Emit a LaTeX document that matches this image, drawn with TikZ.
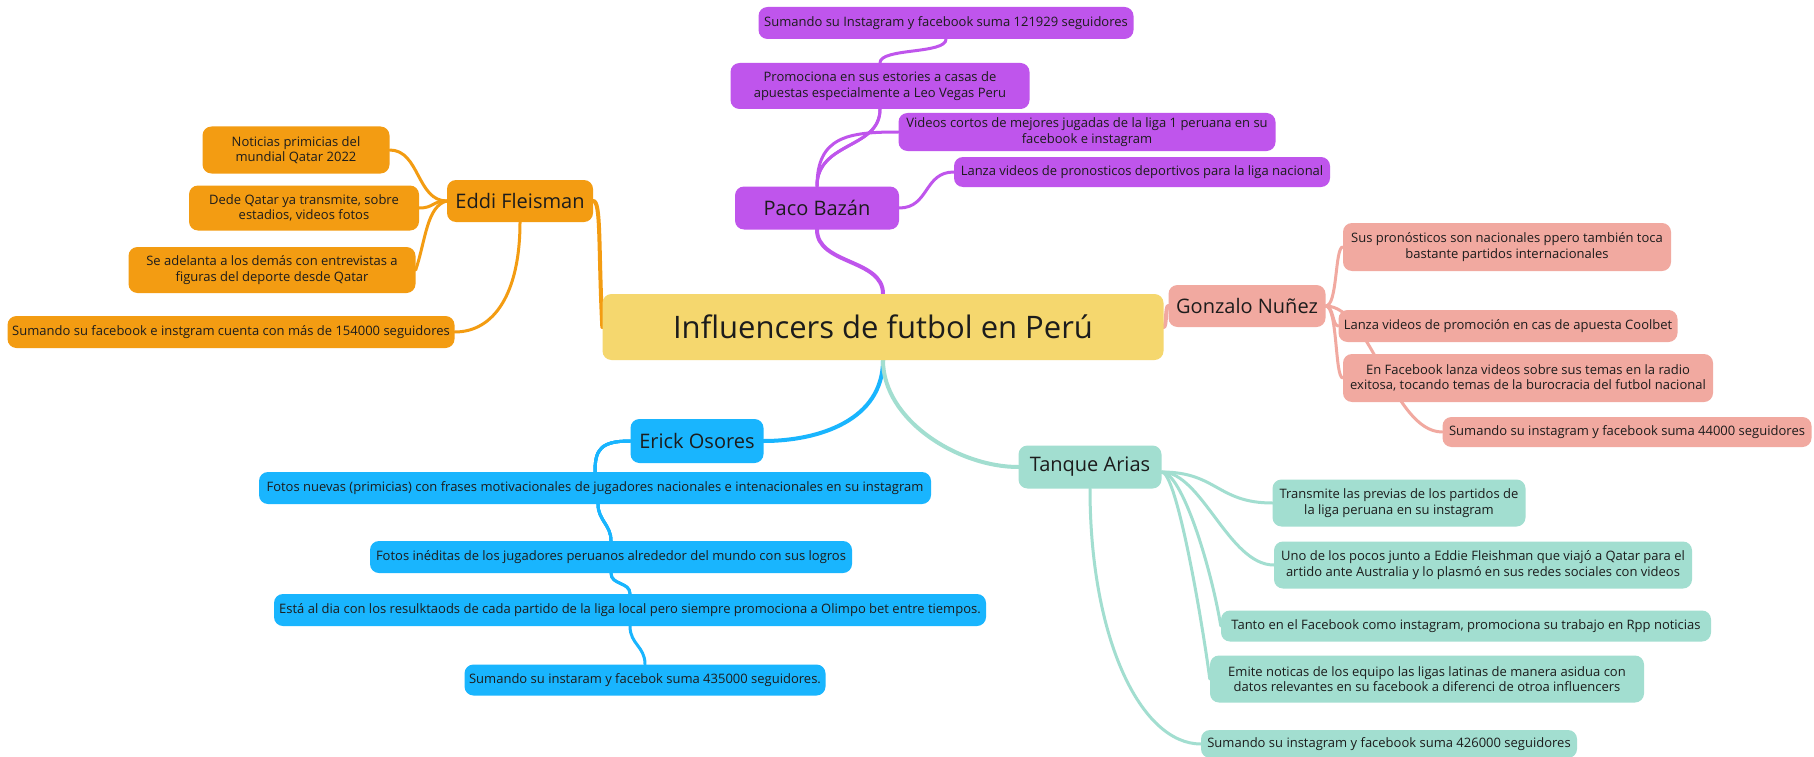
\documentclass[tikz,border=0pt]{standalone}
\usepackage{fontspec}
\setmainfont{Open Sans}
\usetikzlibrary{calc}
\definecolor{cyel}{HTML}{F5D76E}
\definecolor{cpur}{HTML}{BF55EC}
\definecolor{cora}{HTML}{F39C12}
\definecolor{csal}{HTML}{F1A9A0}
\definecolor{cblu}{HTML}{19B5FE}
\definecolor{ctea}{HTML}{A2DED0}
\definecolor{ctxt}{HTML}{1C1C1C}
\pgfdeclarelayer{paper}
\pgfdeclarelayer{bg}
\pgfsetlayers{paper,bg,main}
\begin{document}
\begin{tikzpicture}[x=1pt,y=-1pt,
  box/.style={rounded corners=9pt, inner sep=0pt, align=center, text=ctxt},
  leaf/.style={box, font=\fontsize{13}{15.5}\selectfont},
  lvlone/.style={box, font=\fontsize{20}{24}\selectfont},
  rootbox/.style={box, font=\fontsize{31}{36}\selectfont},
  sz/.style 2 args={minimum width=#1pt, minimum height=#2pt},
  mainlink/.style={line width=4pt, line cap=round},
  sublink/.style={line width=3pt, line cap=round}]
\begin{pgfonlayer}{paper}
\fill[white] (0,0) rectangle (1814,757);
\end{pgfonlayer}
\useasboundingbox (0,0) rectangle (1814,757);

% root
\node[rootbox, fill=cyel, sz={561}{66}] (c) at (883,327) {Influencers de futbol en Perú};

% purple
\node[lvlone, fill=cpur, sz={164}{43}] (paco) at (817,208) {Paco Bazán};
\node[leaf, fill=cpur, sz={375}{32}] (p1) at (946,23) {Sumando su Instagram y facebook suma 121929 seguidores};
\node[leaf, fill=cpur, sz={299}{46}] (p2) at (880,86) {Promociona en sus estories a casas de\\apuestas especialmente a Leo Vegas Peru};
\node[leaf, fill=cpur, sz={377}{38}] (p3) at (1087,132) {Videos cortos de mejores jugadas de la liga 1 peruana en su\\facebook e instagram};
\node[leaf, fill=cpur, sz={376}{30}] (p4) at (1142,172) {Lanza videos de pronosticos deportivos para la liga nacional};

% orange
\node[lvlone, fill=cora, sz={146}{42}] (eddi) at (520,201) {Eddi Fleisman};
\node[leaf, fill=cora, sz={187}{47}] (o1) at (296,150) {Noticias primicias del\\mundial Qatar 2022};
\node[leaf, fill=cora, sz={230}{45}] (o2) at (304,208) {Dede Qatar ya transmite, sobre\\estadios, videos fotos};
\node[leaf, fill=cora, sz={287}{46}] (o3) at (272,270) {Se adelanta a los demás con entrevistas a\\figuras del deporte desde Qatar};
\node[leaf, fill=cora, sz={447}{32}] (o4) at (231,332) {Sumando su facebook e instgram cuenta con más de 154000 seguidores};

% salmon
\node[lvlone, fill=csal, sz={157}{42}] (gon) at (1247,306) {Gonzalo Nuñez};
\node[leaf, fill=csal, sz={328}{48}] (s1) at (1507,247) {Sus pronósticos son nacionales ppero también toca\\bastante partidos internacionales};
\node[leaf, fill=csal, sz={339}{32}] (s2) at (1508,326) {Lanza videos de promoción en cas de apuesta Coolbet};
\node[leaf, fill=csal, sz={370}{48}] (s3) at (1528,378) {En Facebook lanza videos sobre sus temas en la radio\\exitosa, tocando temas de la burocracia del futbol nacional};
\node[leaf, fill=csal, sz={369}{30}] (s4) at (1627,432) {Sumando su instagram y facebook suma 44000 seguidores};

% blue
\node[lvlone, fill=cblu, sz={133}{44}] (eri) at (697,441) {Erick Osores};
\node[leaf, fill=cblu, sz={672}{32}] (b1) at (595,488) {Fotos nuevas (primicias) con frases motivacionales de jugadores nacionales e intenacionales en su instagram};
\node[leaf, fill=cblu, sz={482}{32}] (b2) at (611,557) {Fotos inéditas de los jugadores peruanos alrededor del mundo con sus logros};
\node[leaf, fill=cblu, sz={712}{32}] (b3) at (630,610) {Está al dia con los resulktaods de cada partido de la liga local pero siempre promociona a Olimpo bet entre tiempos.};
\node[leaf, fill=cblu, sz={361}{31}] (b4) at (645,680) {Sumando su instaram y facebok suma 435000 seguidores.};

% teal
\node[lvlone, fill=ctea, sz={143}{43}] (tan) at (1090,467) {Tanque Arias};
\node[leaf, fill=ctea, sz={253}{47}] (t1) at (1399,503) {Transmite las previas de los partidos de\\la liga peruana en su instagram};
\node[leaf, fill=ctea, sz={418}{47}] (t2) at (1483,565) {Uno de los pocos junto a Eddie Fleishman que viajó a Qatar para el\\artido ante Australia y lo plasmó en sus redes sociales con videos};
\node[leaf, fill=ctea, sz={490}{31}] (t3) at (1466,626) {Tanto en el Facebook como instagram, promociona su trabajo en Rpp noticias};
\node[leaf, fill=ctea, sz={434}{47}] (t4) at (1427,679) {Emite noticas de los equipo las ligas latinas de manera asidua con\\datos relevantes en su facebook a diferenci de otroa influencers};
\node[leaf, fill=ctea, sz={376}{28}] (t5) at (1389,744) {Sumando su instagram y facebook suma 426000 seguidores};

\begin{pgfonlayer}{bg}
% purple links
\draw[cpur, mainlink] (c.north) .. controls +(0,-35) and +(0,35) .. (paco.south);
\draw[cpur, sublink] (paco.north) .. controls +(0,-45) and +(0,40) .. (p2.south);
\draw[cpur, sublink] (paco.north) .. controls +(0,-45) and +(0,40) .. (p2.south) -- (p2.north) .. controls +(0,-15) and +(0,15) .. (p1.south);
\draw[cpur, sublink] (paco.north) .. controls +(0,-50) and +(-50,0) .. (p3.west);
\draw[cpur, sublink] (paco.east) .. controls +(30,0) and +(-30,0) .. (p4.west);
% orange links
\draw[cora, mainlink] (eddi.east) .. controls +(8,0) and +(-4,-80) .. (c.west);
\draw[cora, sublink] (eddi.west) .. controls +(-30,0) and +(30,0) .. (o1.east);
\draw[cora, sublink] (eddi.west) .. controls +(-15,0) and +(15,0) .. (o2.east);
\draw[cora, sublink] (eddi.west) .. controls +(-20,5) and +(10,-30) .. (o3.east);
\draw[cora, sublink] (eddi.south) .. controls +(0,70) and +(40,0) .. (o4.east);
% salmon links
\draw[csal, mainlink] (c.east) .. controls +(3,0) and +(-3,0) .. (gon.west);
\draw[csal, sublink] (gon.east) .. controls +(12,0) and +(-8,0) .. (s1.west);
\draw[csal, sublink] (gon.east) .. controls +(8,0) and +(-6,0) .. (s2.west);
\draw[csal, sublink] (gon.east) .. controls +(12,0) and +(-8,0) .. (s3.west);
\draw[csal, sublink] (gon.east) .. controls +(45,0) and +(-50,0) .. (s4.west);
% blue links
\draw[cblu, mainlink] (c.south) .. controls +(0,60) and +(55,0) .. (eri.east);
\draw[cblu, sublink] (eri.west) .. controls +(-30,0) and +(0,-22) .. (b1.north);
\draw[cblu, sublink] (eri.west) .. controls +(-30,0) and +(0,-22) .. (b1.north) -- ([xshift=3pt]b1.south) .. controls +(0,16) and +(0,-16) .. (b2.north);
\draw[cblu, sublink] (eri.west) .. controls +(-30,0) and +(0,-22) .. (b1.north) -- ([xshift=3pt]b1.south) .. controls +(0,16) and +(0,-16) .. (b2.north) -- (b2.south) .. controls +(0,12) and +(0,-12) .. (b3.north);
\draw[cblu, sublink] (eri.west) .. controls +(-30,0) and +(0,-22) .. (b1.north) -- ([xshift=3pt]b1.south) .. controls +(0,16) and +(0,-16) .. (b2.north) -- (b2.south) .. controls +(0,12) and +(0,-12) .. (b3.north) -- (b3.south) .. controls +(0,18) and +(0,-18) .. (b4.north);
% teal links
\draw[ctea, mainlink] (c.south) .. controls +(0,60) and +(-60,0) .. (tan.west);
\draw[ctea, sublink] ([yshift=-5pt]tan.east) .. controls +(55,0) and +(-55,0) .. (t1.west);
\draw[ctea, sublink] ([yshift=-5pt]tan.east) .. controls +(40,0) and +(-45,0) .. (t2.west);
\draw[ctea, sublink] ([yshift=-5pt]tan.east) .. controls +(20,0) and +(-10,-60) .. (t3.west);
\draw[ctea, sublink] ([yshift=-5pt]tan.east) .. controls +(15,0) and +(-8,-60) .. (t4.west);
\draw[ctea, sublink] (tan.south) .. controls +(0,150) and +(-60,0) .. (t5.west);
\end{pgfonlayer}
\end{tikzpicture}
\end{document}
